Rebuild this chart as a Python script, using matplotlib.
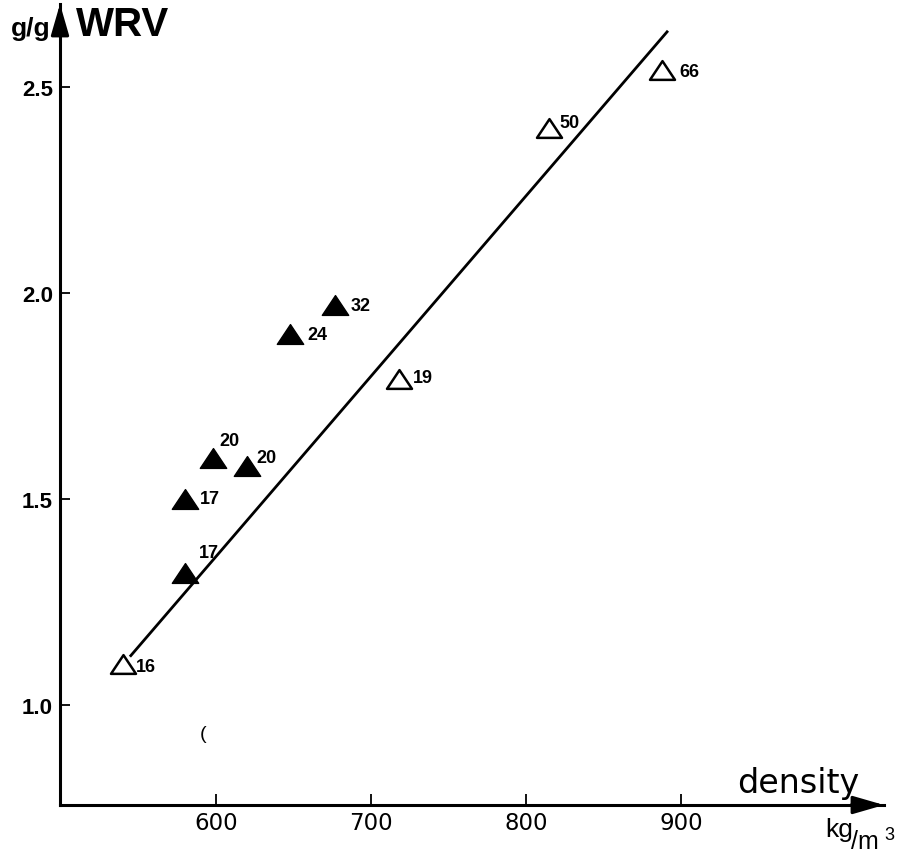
import matplotlib
matplotlib.use("Agg")
import matplotlib.pyplot as plt
from matplotlib.path import Path

# ---- data ----
open_density = [540, 718, 815, 888]
open_wrv = [1.10, 1.79, 2.40, 2.54]
open_labels = ["16", "19", "50", "66"]

filled_density = [580, 580, 598, 620, 648, 677]
filled_wrv = [1.32, 1.50, 1.60, 1.58, 1.90, 1.97]
filled_labels = ["17", "17", "20", "20", "24", "32"]

line_density = [544.5, 891.6]
line_wrv = [1.117, 2.636]

x_ticks = [600, 700, 800, 900]
y_ticks = [1.0, 1.5, 2.0, 2.5]
y_tick_labels = ["1.0", "1.5", "2.0", "2.5"]

# label offsets (points) – styling
open_offsets = [(9, -2), (10, 1), (7, 4), (12, -1)]
filled_offsets = [(10, 15), (11, 0), (5, 12), (7, 6), (12, 0), (11, 0)]

plt.rcParams['font.family'] = ['Liberation Sans', 'DejaVu Sans']

W, H = 906, 854
fig = plt.figure(figsize=(W / 100, H / 100), dpi=100)
left_px, right_px, bottom_px, top_px = 60, 884, 806, 5
ax = fig.add_axes([left_px / W, 1 - bottom_px / H, (right_px - left_px) / W, (bottom_px - top_px) / H])
ax.set_xlim(499.4, 600 + (right_px - 216) / 1.55)
ax.set_ylim(0.757, 2.701)

for s in ["top", "right"]:
    ax.spines[s].set_visible(False)
for s in ["left", "bottom"]:
    ax.spines[s].set_linewidth(2.2)

# arrows
ax.annotate("", xy=(1.0, 0), xytext=(0.96, 0), xycoords="axes fraction",
            arrowprops=dict(arrowstyle="-|>,head_length=1.9,head_width=0.55", color="black", lw=2.2,
                            shrinkA=0, shrinkB=0))
ax.annotate("", xy=(0, 1.0), xytext=(0, 0.96), xycoords="axes fraction",
            arrowprops=dict(arrowstyle="-|>,head_length=1.9,head_width=0.55", color="black", lw=2.2,
                            shrinkA=0, shrinkB=0))

ax.set_xticks(x_ticks)
ax.set_xticklabels([str(v) for v in x_ticks], family="DejaVu Sans", fontsize=16.5)
ax.set_yticks(y_ticks)
ax.set_yticklabels(y_tick_labels, fontweight="bold", fontsize=16)
ax.tick_params(axis="x", direction="in", length=8, width=1.3, pad=4)
ax.tick_params(axis="y", direction="in", length=7, width=1.3, pad=5)

# regression line
ax.plot(line_density, line_wrv, color="black", lw=2.0, solid_capstyle="butt")

tri = Path([(-1, -0.75), (1, -0.75), (0, 0.75), (-1, -0.75)],
           [Path.MOVETO, Path.LINETO, Path.LINETO, Path.CLOSEPOLY])
ax.plot(filled_density, filled_wrv, linestyle="none", marker=tri, markersize=19,
        markerfacecolor="black", markeredgecolor="black", zorder=3)
ax.plot(open_density, open_wrv, linestyle="none", marker=tri, markersize=18,
        markerfacecolor="white", markeredgecolor="black", markeredgewidth=1.8, zorder=3)

for x, y, t, (dx, dy) in zip(open_density, open_wrv, open_labels, open_offsets):
    ax.annotate(t, (x, y), xytext=(dx, dy), textcoords="offset points",
                ha="left", va="center", fontsize=13, fontweight="bold")
for x, y, t, (dx, dy) in zip(filled_density, filled_wrv, filled_labels, filled_offsets):
    ax.annotate(t, (x, y), xytext=(dx, dy), textcoords="offset points",
                ha="left", va="center", fontsize=13, fontweight="bold")

# stray scan mark
ax.text(592, 0.93, "(", fontsize=14, ha="center", va="center")

# axis titles
fig.text(51 / W, 1 - 36 / H, "g/g", ha="right", va="baseline", fontsize=19, fontweight="bold")
fig.text(76 / W, 1 - 36 / H, "WRV", ha="left", va="baseline", fontsize=29, fontweight="bold")
fig.text(859 / W, 1 - 793 / H, "density", ha="right", va="baseline", fontsize=24,
         family="DejaVu Sans")
fig.text(825 / W, 1 - 837 / H, "kg", ha="left", va="baseline", fontsize=19)
fig.text(851 / W, 1 - 849 / H, "/m", ha="left", va="baseline", fontsize=18)
fig.text(884 / W, 1 - 840 / H, "3", ha="left", va="baseline", fontsize=13)

fig.savefig("out.png", dpi=100)
